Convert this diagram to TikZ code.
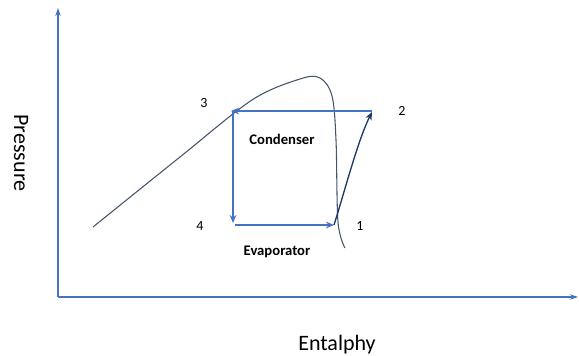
\documentclass[tikz,border=0pt]{standalone}
\usepackage{fontspec}
\setmainfont{Carlito}
\usetikzlibrary{arrows.meta, positioning}

\definecolor{axisblue}{HTML}{4472C4}
\definecolor{domegray}{HTML}{44546A}
\definecolor{compnavy}{HTML}{1F3864}

\begin{document}
\begin{tikzpicture}[
    x=0.75pt, y=-0.75pt,
    axis/.style={draw=axisblue, line width=0.9pt, -{Stealth[length=6pt, width=4pt]}},
    flow/.style={draw=axisblue, line width=1pt, -{Stealth[length=6pt, width=5pt]}},
    dome/.style={draw=domegray, line width=0.8pt},
    axislabel/.style={font=\fontsize{16.5}{18}\selectfont},
    statelabel/.style={font=\fontsize{10.5}{12}\selectfont},
    partlabel/.style={font=\fontsize{11}{13}\selectfont\bfseries},
    >=Stealth
  ]
  \useasboundingbox (0,0) rectangle (579,356);
  % Axes
  \coordinate (origin) at (58,297);
  \coordinate (ytop) at (58,8);
  \coordinate (xend) at (578,297);
  \draw[axis] (origin) -- (ytop);
  \draw[axis] (origin) -- (xend);
  \node[axislabel, rotate=-90] (pressure) at (21,153) {Pressure};
  \node[axislabel] (enthalpy) at (337,345) {Entalphy};
  % Saturation dome
  \draw[dome] plot[smooth, tension=0.55] coordinates {
    (93,227) (180,157) (252,100) (300,79) (320,78) (332,96)
    (336,140) (338,222) (345,248)};
  % Cycle states
  \coordinate (p1) at (334,225);
  \coordinate (p2) at (372,112);
  \coordinate (p3) at (231,111);
  \coordinate (p4) at (233,225);
  \draw[flow] (372,111) -- (p3);
  \draw[flow] (233,111) -- (233,223);
  \draw[flow] (235,225) -- (p1);
  \draw[compnavy, line width=1pt, -{Stealth[length=6pt, width=5pt]}]
    (p1) .. controls (345,190) and (358,140) .. (p2);
  % State numbers
  \foreach \n/\x/\y in {1/360/226, 2/402/111, 3/204/103, 4/200/226} {
    \node[statelabel] (n\n) at (\x,\y) {\n};
  }
  % Heat exchangers
  \node[partlabel] (cond) at (282,139) {Condenser};
  \node[partlabel] (evap) at (277,252) {Evaporator};
\end{tikzpicture}
\end{document}
